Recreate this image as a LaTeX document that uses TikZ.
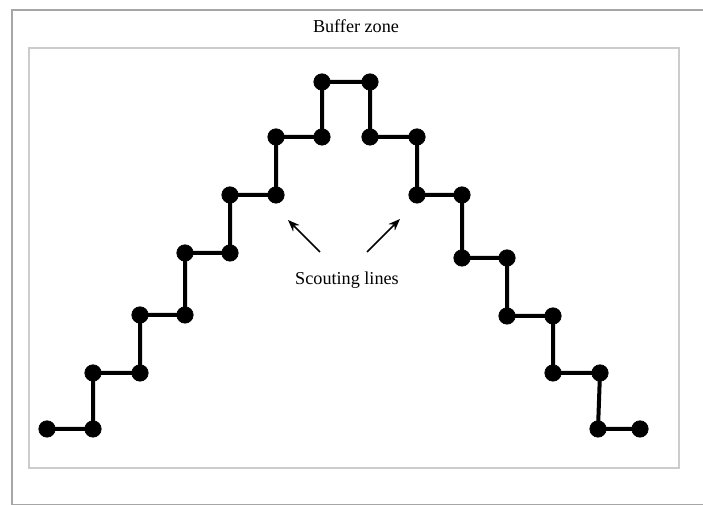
\documentclass[tikz,border=0pt]{standalone}
\usepackage{fontspec}
\setmainfont{Liberation Serif}
\usepackage{tkz-euclide}
\usetikzlibrary{arrows.meta}

\begin{document}
\begin{tikzpicture}[x=5.5pt,y=5.5pt]
    \useasboundingbox (0,0) rectangle (70.3,50.5);
    \tkzSetUpPoint[shape=circle,size=9,color=black,fill=black]
    \tkzSetUpLine[line width=2.2pt,color=black]

    % frames
    \tkzDefPoints{1.2/0.05/O1, 71.0/49.5/O2, 2.9/3.7/I1, 67.9/45.7/I2}
    \draw[gray!70,line width=0.8pt] (O1) rectangle (O2);
    \draw[gray!40,line width=0.6pt] (I1) rectangle (I2);

    % scouting lines
    \tkzDefPoints{4.7/7.6/L1, 9.3/7.6/L2, 9.3/13.2/L3, 14.0/13.2/L4,
      14.0/19.0/L5, 18.5/19.0/L6, 18.5/25.2/L7, 23.0/25.2/L8,
      23.0/31.0/L9, 27.6/31.0/L10, 27.6/36.8/L11, 32.2/36.8/L12,
      32.2/42.3/T1, 37.0/42.3/T2}
    \tkzDefPoints{37.0/36.8/R1, 41.7/36.8/R2, 41.7/31.0/R3, 46.2/31.0/R4,
      46.2/24.7/R5, 50.7/24.7/R6, 50.7/18.9/R7, 55.3/18.9/R8,
      55.3/13.2/R9, 60.0/13.2/R10, 59.8/7.6/R11, 64.0/7.6/R12}
    \tkzDrawPolySeg(L1,L2,L3,L4,L5,L6,L7,L8,L9,L10,L11,L12,T1,T2,
      R1,R2,R3,R4,R5,R6,R7,R8,R9,R10,R11,R12)
    \tkzDrawPoints(L1,L2,L3,L4,L5,L6,L7,L8,L9,L10,L11,L12,T1,T2)
    \tkzDrawPoints(R1,R2,R3,R4,R5,R6,R7,R8,R9,R10,R11,R12)

    % labels
    \tkzDefPoints{35.6/47.9/B, 34.7/22.5/S}
    \node (buffer) at (B) {Buffer zone};
    \node (scout) at (S) {Scouting lines};

    \tkzDefPoints{32.0/25.3/A1, 28.8/28.5/A2, 36.7/25.3/A3, 40.0/28.6/A4}
    \draw[-{Stealth[length=6.5pt,width=5pt]},line width=0.9pt] (A1) -- (A2);
    \draw[-{Stealth[length=6.5pt,width=5pt]},line width=0.9pt] (A3) -- (A4);
\end{tikzpicture}
\end{document}
